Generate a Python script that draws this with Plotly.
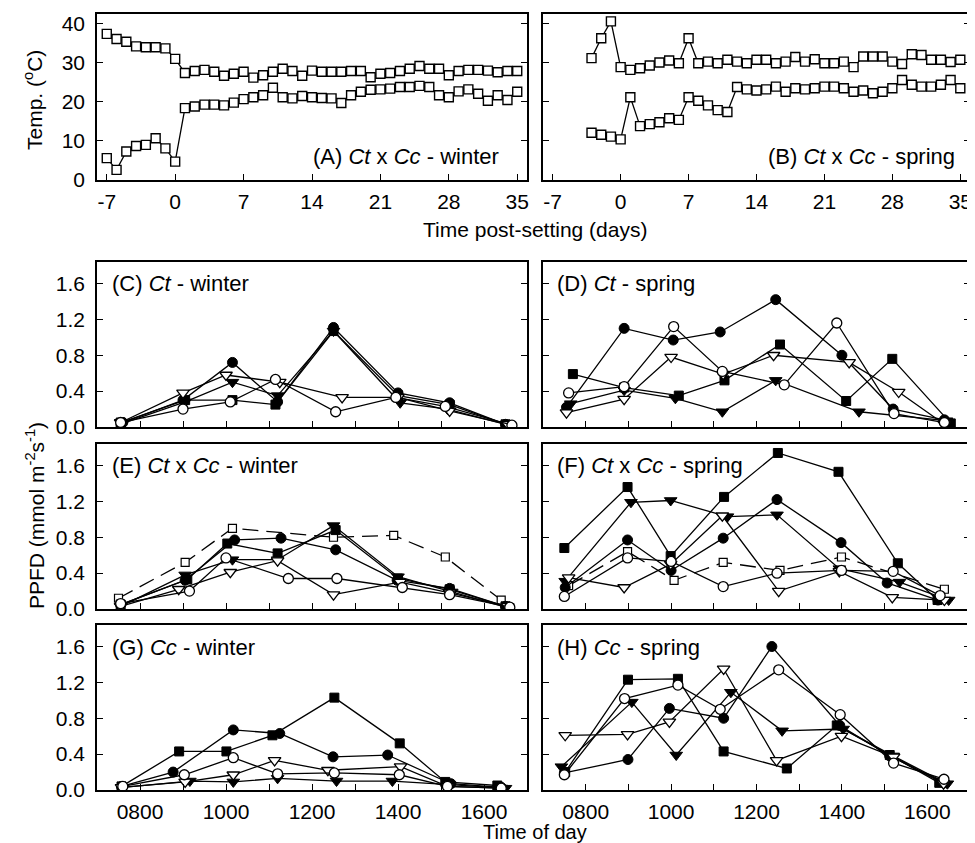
import plotly.graph_objects as go

# The page body has an 8px margin: reference pixel positions are shifted by it,
# and the figure only needs to reach the window's right/bottom edges.
PAGE_W, PAGE_H = 975, 843
OFF = 8
W, H = PAGE_W - OFF, PAGE_H - OFF
FONT = "Liberation Sans, Arial, sans-serif"

# ---------------- Temperature panels (days post-setting) ----------------
days_A = list(range(-7, 36))
tmax_A = [37.4, 36.1, 35.4, 34.2, 34.0, 34.0, 33.7, 31.0, 27.4, 27.9, 28.2, 27.7, 26.7, 27.2,
          27.7, 26.2, 26.8, 27.7, 28.5, 27.9, 26.7, 28.0, 27.7, 27.7, 27.7, 27.9, 27.9, 26.3,
          27.2, 27.4, 27.9, 28.5, 29.2, 28.5, 28.5, 26.8, 27.9, 28.2, 28.2, 28.0, 27.6, 27.9, 27.9]
tmin_A = [5.6, 2.6, 7.3, 8.7, 9.0, 10.7, 8.1, 4.7, 18.4, 18.8, 19.3, 19.3, 19.1, 19.8,
          20.7, 21.2, 21.7, 23.6, 21.2, 20.9, 21.5, 21.2, 21.0, 20.9, 19.7, 21.7, 22.6, 23.1,
          23.2, 23.4, 23.8, 23.8, 24.1, 23.8, 21.7, 21.2, 22.7, 23.2, 22.1, 20.3, 21.7, 20.5, 22.6]

days_B = list(range(-3, 36))
tmax_B = [31.2, 36.3, 40.6, 28.9, 28.2, 28.6, 29.3, 30.1, 30.6, 29.9, 36.3, 29.9, 30.3,
          29.9, 30.8, 30.3, 29.9, 30.8, 30.8, 29.9, 30.3, 31.5, 30.3, 30.9, 29.9, 29.9,
          30.3, 28.9, 31.6, 31.6, 31.6, 30.3, 29.7, 32.2, 32.0, 30.8, 30.8, 30.2, 30.8]
tmin_B = [12.1, 11.6, 11.1, 10.4, 21.2, 13.8, 14.3, 14.8, 15.8, 15.4, 21.2, 20.3, 19.1,
          17.9, 17.4, 23.8, 23.2, 22.9, 23.2, 23.9, 22.6, 23.5, 23.2, 23.5, 23.9, 23.9,
          23.5, 22.6, 22.9, 22.2, 22.6, 23.5, 25.6, 24.4, 23.9, 23.9, 24.4, 25.6, 23.5]

day_ticks = [-7, 0, 7, 14, 21, 28, 35]
temp_ticks = [0, 10, 20, 30, 40]

# ---------------- PPFD panels (time of day, HHMM) ----------------
# fc = filled circle, oc = open circle, ft = filled down-triangle,
# ot = open down-triangle, fs = filled square, ds = dashed open square
C_fc_x = [760, 900, 1015, 1120, 1250, 1400, 1520, 1650]
C_fc_y = [0.05, 0.30, 0.72, 0.28, 1.11, 0.38, 0.27, 0.03]
C_oc_x = [755, 900, 1010, 1115, 1255, 1395, 1510, 1665]
C_oc_y = [0.05, 0.20, 0.28, 0.53, 0.17, 0.33, 0.23, 0.02]
C_ft_x = [760, 905, 1015, 1120, 1250, 1405, 1515, 1650]
C_ft_y = [0.04, 0.28, 0.50, 0.35, 1.07, 0.27, 0.20, 0.03]
C_ot_x = [755, 900, 1000, 1125, 1270, 1400, 1520, 1655]
C_ot_y = [0.05, 0.38, 0.58, 0.50, 0.33, 0.33, 0.18, 0.03]
C_fs_x = [755, 905, 1015, 1115, 1250, 1400, 1520, 1650]
C_fs_y = [0.05, 0.30, 0.30, 0.25, 1.07, 0.35, 0.25, 0.03]

D_fc_x = [755, 890, 1005, 1115, 1245, 1400, 1520, 1640]
D_fc_y = [0.22, 1.10, 0.97, 1.06, 1.42, 0.80, 0.20, 0.08]
D_oc_x = [760, 890, 1006, 1120, 1265, 1388, 1522, 1640]
D_oc_y = [0.38, 0.45, 1.12, 0.62, 0.47, 1.16, 0.15, 0.05]
D_fs_x = [770, 890, 1018, 1125, 1255, 1410, 1518, 1655]
D_fs_y = [0.59, 0.44, 0.35, 0.52, 0.92, 0.29, 0.76, 0.04]
D_ft_x = [765, 890, 1010, 1120, 1245, 1440, 1645]
D_ft_y = [0.26, 0.41, 0.32, 0.17, 0.52, 0.17, 0.07]
D_ot_x = [755, 890, 1000, 1122, 1240, 1417, 1533, 1640]
D_ot_y = [0.16, 0.31, 0.78, 0.59, 0.80, 0.72, 0.39, 0.03]

E_ds_x = [750, 905, 1015, 1250, 1390, 1510, 1640]
E_ds_y = [0.12, 0.52, 0.90, 0.80, 0.82, 0.58, 0.10]
E_fc_x = [755, 905, 1020, 1128, 1255, 1398, 1520, 1650]
E_fc_y = [0.05, 0.32, 0.77, 0.79, 0.66, 0.32, 0.23, 0.03]
E_ft_x = [755, 905, 1015, 1120, 1250, 1400, 1525, 1650]
E_ft_y = [0.03, 0.38, 0.55, 0.55, 0.93, 0.36, 0.19, 0.02]
E_fs_x = [755, 910, 1003, 1120, 1255, 1400, 1520, 1650]
E_fs_y = [0.05, 0.33, 0.73, 0.62, 0.88, 0.34, 0.22, 0.03]
E_oc_x = [755, 915, 1000, 1145, 1258, 1410, 1520, 1660]
E_oc_y = [0.06, 0.20, 0.57, 0.34, 0.34, 0.24, 0.16, 0.02]
E_ot_x = [755, 890, 1010, 1120, 1250, 1405, 1520, 1655]
E_ot_y = [0.03, 0.22, 0.41, 0.54, 0.16, 0.30, 0.18, 0.03]

F_fs_x = [750, 898, 999, 1124, 1250, 1392, 1531, 1624]
F_fs_y = [0.68, 1.36, 0.59, 1.25, 1.74, 1.53, 0.51, 0.10]
F_ft_x = [752, 906, 999, 1132, 1248, 1394, 1535, 1650]
F_ft_y = [0.31, 1.19, 1.21, 1.03, 1.05, 0.45, 0.30, 0.10]
F_fc_x = [752, 898, 1000, 1122, 1248, 1398, 1506, 1625]
F_fc_y = [0.24, 0.77, 0.43, 0.79, 1.22, 0.74, 0.29, 0.10]
F_ds_x = [760, 898, 1007, 1122, 1255, 1399, 1640]
F_ds_y = [0.26, 0.64, 0.32, 0.52, 0.43, 0.58, 0.22]
F_oc_x = [750, 898, 1000, 1122, 1248, 1399, 1520, 1630]
F_oc_y = [0.14, 0.57, 0.53, 0.25, 0.40, 0.43, 0.42, 0.15]
F_ot_x = [760, 890, 999, 1120, 1252, 1394, 1518, 1640]
F_ot_y = [0.35, 0.24, 0.50, 1.04, 0.20, 0.42, 0.13, 0.10]

G_fs_x = [757, 891, 1001, 1108, 1252, 1404, 1510, 1631]
G_fs_y = [0.04, 0.43, 0.43, 0.61, 1.03, 0.52, 0.09, 0.05]
G_fc_x = [757, 877, 1017, 1125, 1249, 1376, 1523, 1640]
G_fc_y = [0.04, 0.20, 0.67, 0.63, 0.37, 0.39, 0.07, 0.03]
G_oc_x = [760, 903, 1017, 1120, 1252, 1403, 1515, 1640]
G_oc_y = [0.04, 0.17, 0.36, 0.18, 0.19, 0.17, 0.04, 0.02]
G_ot_x = [757, 905, 1017, 1113, 1237, 1406, 1515, 1640]
G_ot_y = [0.03, 0.09, 0.17, 0.33, 0.22, 0.26, 0.04, 0.02]
G_ft_x = [760, 916, 1017, 1120, 1257, 1387, 1520, 1650]
G_ft_y = [0.03, 0.10, 0.09, 0.13, 0.10, 0.10, 0.06, 0.02]

H_fs_x = [752, 899, 1016, 1123, 1271, 1388, 1512, 1628]
H_fs_y = [0.20, 1.23, 1.24, 0.43, 0.24, 0.72, 0.39, 0.08]
H_fc_x = [750, 899, 996, 1123, 1236, 1395, 1512, 1640]
H_fc_y = [0.19, 0.34, 0.91, 0.80, 1.60, 0.72, 0.38, 0.08]
H_oc_x = [750, 891, 1016, 1115, 1252, 1396, 1521, 1639]
H_oc_y = [0.17, 1.02, 1.17, 0.90, 1.34, 0.84, 0.30, 0.12]
H_ft_x = [743, 908, 1012, 1140, 1260, 1403, 1520, 1647]
H_ft_y = [0.26, 0.98, 0.39, 1.09, 0.66, 0.68, 0.38, 0.07]
H_ot_x = [752, 898, 996, 1123, 1247, 1399, 1521, 1638]
H_ot_y = [0.61, 0.62, 0.76, 1.35, 0.33, 0.60, 0.37, 0.07]

time_major = [800, 1000, 1200, 1400, 1600]
time_labels = ["0800", "1000", "1200", "1400", "1600"]
time_minor = [900, 1100, 1300, 1500]
ppfd_ticks = [0.0, 0.4, 0.8, 1.2, 1.6]

panel_labels = {
    "A": "(A) <i>Ct</i> x <i>Cc</i> - winter",
    "B": "(B) <i>Ct</i> x <i>Cc</i> - spring",
    "C": "(C) <i>Ct</i> - winter",
    "D": "(D) <i>Ct</i> - spring",
    "E": "(E) <i>Ct</i> x <i>Cc</i> - winter",
    "F": "(F) <i>Ct</i> x <i>Cc</i> - spring",
    "G": "(G) <i>Cc</i> - winter",
    "H": "(H) <i>Cc</i> - spring",
}

# ---------------- figure ----------------
fig = go.Figure()

def fx(p):
    return min(1.0, max(0.0, (p - OFF) / W))

def fy(p):
    return min(1.0, max(0.0, 1 - (p - OFF) / H))

LEFT = [fx(97), fx(527)]
RIGHT = [fx(543), fx(970)]
ROWS = [(14, 180), (262, 427), (444, 609), (625, 790)]

panels = {
    "A": (1, LEFT, ROWS[0]), "B": (2, RIGHT, ROWS[0]),
    "C": (3, LEFT, ROWS[1]), "D": (4, RIGHT, ROWS[1]),
    "E": (5, LEFT, ROWS[2]), "F": (6, RIGHT, ROWS[2]),
    "G": (7, LEFT, ROWS[3]), "H": (8, RIGHT, ROWS[3]),
}

STY = {
    "fc": dict(symbol="circle", color="black", size=10, line=dict(color="black", width=1)),
    "oc": dict(symbol="circle", color="white", size=10, line=dict(color="black", width=1.3)),
    "ft": dict(symbol="triangle-down", color="black", size=11, line=dict(color="black", width=1)),
    "ot": dict(symbol="triangle-down", color="white", size=11, line=dict(color="black", width=1.3)),
    "fs": dict(symbol="square", color="black", size=9, line=dict(color="black", width=1)),
    "ds": dict(symbol="square", color="white", size=8, line=dict(color="black", width=1.2)),
}

def sfx(panel):
    n = panels[panel][0]
    return "" if n == 1 else str(n)

def add_series(panel, kind, xs, ys):
    dash = "16px,8px" if kind == "ds" else "solid"
    fig.add_trace(go.Scatter(
        x=xs, y=ys, mode="lines+markers",
        line=dict(color="black", width=1.3, dash=dash),
        marker=STY[kind], xaxis="x" + sfx(panel), yaxis="y" + sfx(panel),
        showlegend=False, hoverinfo="skip"))

def add_temp(panel, xs, ys):
    fig.add_trace(go.Scatter(
        x=xs, y=ys, mode="lines+markers",
        line=dict(color="black", width=1.3),
        marker=dict(symbol="square", color="white", size=9, line=dict(color="black", width=1.4)),
        xaxis="x" + sfx(panel), yaxis="y" + sfx(panel), showlegend=False, hoverinfo="skip"))

add_temp("A", days_A, tmax_A)
add_temp("A", days_A, tmin_A)
add_temp("B", days_B, tmax_B)
add_temp("B", days_B, tmin_B)

series = {
    "C": [("fs", C_fs_x, C_fs_y), ("ft", C_ft_x, C_ft_y), ("fc", C_fc_x, C_fc_y),
          ("ot", C_ot_x, C_ot_y), ("oc", C_oc_x, C_oc_y)],
    "D": [("fs", D_fs_x, D_fs_y), ("ft", D_ft_x, D_ft_y), ("fc", D_fc_x, D_fc_y),
          ("ot", D_ot_x, D_ot_y), ("oc", D_oc_x, D_oc_y)],
    "E": [("ds", E_ds_x, E_ds_y), ("fs", E_fs_x, E_fs_y), ("ft", E_ft_x, E_ft_y),
          ("fc", E_fc_x, E_fc_y), ("ot", E_ot_x, E_ot_y), ("oc", E_oc_x, E_oc_y)],
    "F": [("ds", F_ds_x, F_ds_y), ("fs", F_fs_x, F_fs_y), ("ft", F_ft_x, F_ft_y),
          ("fc", F_fc_x, F_fc_y), ("ot", F_ot_x, F_ot_y), ("oc", F_oc_x, F_oc_y)],
    "G": [("fs", G_fs_x, G_fs_y), ("ft", G_ft_x, G_ft_y), ("fc", G_fc_x, G_fc_y),
          ("ot", G_ot_x, G_ot_y), ("oc", G_oc_x, G_oc_y)],
    "H": [("fs", H_fs_x, H_fs_y), ("ft", H_ft_x, H_ft_y), ("fc", H_fc_x, H_fc_y),
          ("ot", H_ot_x, H_ot_y), ("oc", H_oc_x, H_oc_y)],
}
for p, lst in series.items():
    for kind, xs, ys in lst:
        add_series(p, kind, xs, ys)

layout = dict(
    width=W, height=H, margin=dict(l=0, r=0, t=0, b=0, pad=0), autosize=False,
    paper_bgcolor="white", plot_bgcolor="white",
    font=dict(family=FONT, size=21, color="black"),
    showlegend=False,
)

axis_common = dict(showline=True, linecolor="black", linewidth=1.6, showgrid=False,
                   zeroline=False, ticks="inside", ticklen=6, tickwidth=1.3,
                   tickcolor="black", tickfont=dict(family=FONT, size=21, color="black"),
                   automargin=False, ticklabeloverflow="allow")

for p, (n, xdom, (top, bot)) in panels.items():
    s = sfx(p)
    xa = dict(axis_common, domain=xdom, anchor="y" + s, mirror=True)
    ya = dict(axis_common, domain=[fy(bot), fy(top)], anchor="x" + s, mirror="ticks")
    if p in ("A", "B"):
        xa.update(range=[-8, 36], tickmode="array", tickvals=day_ticks,
                  ticktext=[str(v) for v in day_ticks], showticklabels=True,
                  ticklabelstandoff=2)
        ya.update(range=[0, 42.5], tickmode="array", tickvals=temp_ticks,
                  ticktext=[str(v) for v in temp_ticks])
    else:
        xa.update(range=[700, 1700], tickmode="array", tickvals=time_major,
                  ticktext=time_labels, showticklabels=p in ("G", "H"),
                  ticklabelstandoff=2,
                  minor=dict(tickmode="array", tickvals=time_minor, ticks="inside",
                             ticklen=6, tickwidth=1.3, tickcolor="black", showgrid=False))
        ya.update(range=[0, 1.84], tickmode="array", tickvals=ppfd_ticks,
                  ticktext=["%.1f" % v for v in ppfd_ticks])
    ya.update(showticklabels=p in ("A", "C", "E", "G"), ticklabelstandoff=6)
    layout["xaxis" + s] = xa
    layout["yaxis" + s] = ya

ann = []
ann.append(dict(text=panel_labels["A"], x=fx(501), y=fy(156), xanchor="right", yanchor="middle"))
ann.append(dict(text=panel_labels["B"], x=fx(957), y=fy(156), xanchor="right", yanchor="middle"))
for p, xp, yp in [("C", 110, 283), ("D", 555, 283), ("E", 110, 466), ("F", 555, 466),
                  ("G", 110, 647), ("H", 555, 647)]:
    ann.append(dict(text=panel_labels[p], x=fx(xp), y=fy(yp), xanchor="left", yanchor="middle"))
for a in ann:
    a.update(xref="paper", yref="paper", showarrow=False, font=dict(family=FONT, size=22))

title_specs = [
    ("Temp. (<sup>o</sup>C)", 33, 100, -90, 21),
    ("PPFD (mmol m<sup>-2</sup>s<sup>-1</sup>)", 35, 516, -90, 21),
    ("Time post-setting (days)", 535, 229, 0, 21),
    ("Time of day", 535, 832, 0, 20),
]
for txt, xp, yp, ang, fs in title_specs:
    ann.append(dict(text=txt, x=fx(xp), y=fy(yp), textangle=ang,
                    xref="paper", yref="paper", showarrow=False,
                    xanchor="center", yanchor="middle",
                    font=dict(family=FONT, size=fs)))
layout["annotations"] = ann

fig.update_layout(**layout)
fig.write_html("out.html")
